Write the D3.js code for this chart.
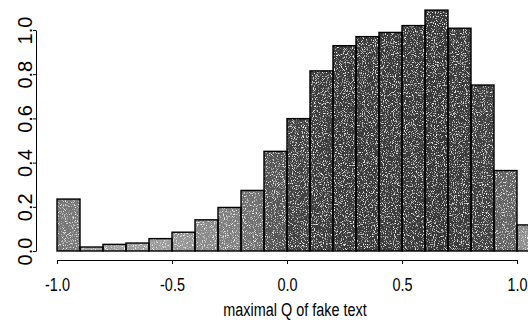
<!DOCTYPE html>
<html>
  <head>
    <meta charset="utf-8">
    <title>maximal Q of fake text</title>
    <script src="https://d3js.org/d3.v7.min.js"></script>
    <style>
      body { margin: 0; background: #fff; }
      svg { display: block; }
      .xlab { font-family: "Liberation Sans", Arial, sans-serif; font-size: 19px; }
      .ylab { font-family: "Liberation Sans", Arial, sans-serif; font-size: 20px; }
    </style>
  </head>
  <body>
    <div id="chart"></div>
    <script>
      // histogram bins (left edges) and relative frequencies
      const binStarts = [-1.0, -0.9, -0.8, -0.7, -0.6, -0.5, -0.4, -0.3, -0.2, -0.1,
                         0.0, 0.1, 0.2, 0.3, 0.4, 0.5, 0.6, 0.7, 0.8, 0.9, 1.0];
      const binWidth = 0.1;
      const freqs = [0.235, 0.018, 0.030, 0.036, 0.056, 0.085, 0.141, 0.197, 0.274, 0.451,
                     0.599, 0.815, 0.929, 0.970, 0.989, 1.020, 1.090, 1.008, 0.751, 0.364, 0.118];
      const xTicks = [-1.0, -0.5, 0.0, 0.5, 1.0];
      const yTicks = [0.0, 0.2, 0.4, 0.6, 0.8, 1.0];
      const xTitle = "maximal Q of fake text";

      const width = 528, height = 322;
      // the printed figure uses a condensed face for the x axis
      const narrow = "scale(0.76,1)";

      const svg = d3.select("#chart")
        .append("svg")
        .attr("width", width)
        .attr("height", height);

      // grainy print texture
      const defs = svg.append("defs");
      const grain = defs.append("filter")
        .attr("id", "grain")
        .attr("x", 0).attr("y", 0).attr("width", 1).attr("height", 1);
      grain.append("feTurbulence")
        .attr("type", "fractalNoise")
        .attr("baseFrequency", 0.9)
        .attr("numOctaves", 2)
        .attr("seed", 4)
        .attr("result", "n");
      grain.append("feColorMatrix")
        .attr("in", "n")
        .attr("type", "matrix")
        .attr("values", "0 0 0 0 1  0 0 0 0 1  0 0 0 0 1  4 0 0 0 -2.2")
        .attr("result", "speck");
      grain.append("feComposite")
        .attr("in", "speck")
        .attr("in2", "SourceGraphic")
        .attr("operator", "in")
        .attr("result", "speckIn");
      const merge = grain.append("feMerge");
      merge.append("feMergeNode").attr("in", "SourceGraphic");
      merge.append("feMergeNode").attr("in", "speckIn");

      // scales
      const x = d3.scaleLinear().domain([-1, 1]).range([57, 517]);
      const y = d3.scaleLinear().domain([0, 1]).range([251, 30]);
      const shade = d3.scaleLinear()
        .domain([0, 0.25, 0.6, 1.1])
        .range(["#a6a6a6", "#747474", "#424242", "#383838"]);

      // bars: fill then outline
      svg.append("g")
        .attr("filter", "url(#grain)")
        .selectAll("rect")
          .data(freqs)
        .enter().append("rect")
          .attr("x", (d, i) => x(binStarts[i]))
          .attr("y", d => y(d))
          .attr("width", x(binWidth) - x(0))
          .attr("height", d => y(0) - y(d))
          .attr("fill", d => shade(d));
      svg.append("g")
        .selectAll("rect")
          .data(freqs)
        .enter().append("rect")
          .attr("x", (d, i) => x(binStarts[i]))
          .attr("y", d => y(d))
          .attr("width", x(binWidth) - x(0))
          .attr("height", d => y(0) - y(d))
          .attr("fill", "none")
          .attr("stroke", "#000")
          .attr("stroke-width", 1.4);

      // x axis
      const xAxis = svg.append("g")
        .attr("transform", "translate(0,260)")
        .call(d3.axisBottom(x).tickValues(xTicks).tickSize(4).tickSizeOuter(0)
          .tickFormat(d3.format(".1f")));
      xAxis.select(".domain").attr("stroke-width", 1.2);
      xAxis.selectAll("text")
        .attr("class", "xlab")
        .attr("fill", "#000")
        .attr("y", 18)
        .attr("transform", narrow)
        .text(d => d3.format(".1f")(d).replace("−", "-"));

      // y axis, labels parallel to the axis
      const yAxis = svg.append("g")
        .attr("transform", "translate(36,0)")
        .call(d3.axisLeft(y).tickValues(yTicks).tickSize(3).tickSizeOuter(0)
          .tickFormat(d3.format(".1f")));
      yAxis.select(".domain").attr("stroke-width", 1);
      yAxis.selectAll("text")
        .attr("class", "ylab")
        .attr("fill", "#000")
        .attr("x", null).attr("dy", null)
        .attr("text-anchor", "middle")
        .attr("transform", "translate(-4,0) rotate(-90)");

      // axis title
      svg.append("g")
        .attr("transform", "translate(295,316)")
        .append("text")
          .attr("class", "xlab")
          .attr("text-anchor", "middle")
          .attr("transform", narrow)
          .text(xTitle);
    </script>
  </body>
</html>
